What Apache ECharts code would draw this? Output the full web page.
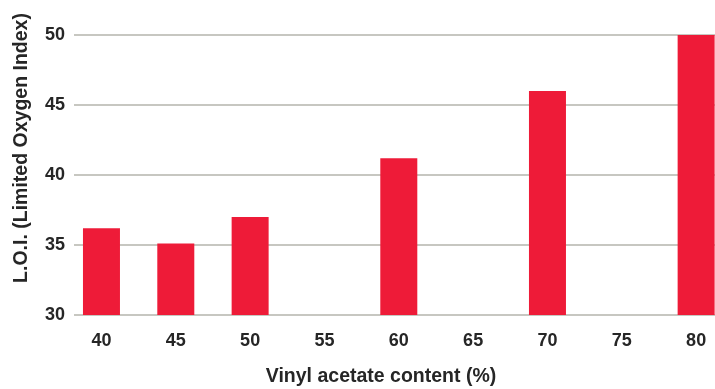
<!DOCTYPE html>
<html>
<head>
<meta charset="utf-8">
<script src="https://cdn.jsdelivr.net/npm/echarts@6/dist/echarts.min.js"></script>
<style>html,body{margin:0;padding:0;background:#fff;overflow:hidden}#c{width:734px;height:389px}</style>
</head>
<body>
<div id="c"></div>
<script>
const categories = ['40','45','50','55','60','65','70','75','80'];
const loiValues = [36.2, 35.1, 37.0, null, 41.2, null, 46.0, null, 50.05];
const yMin = 30, yMax = 50, yStep = 5;
const xTitle = 'Vinyl acetate content (%)';
const yTitle = 'L.O.I. (Limited Oxygen Index)';

const font = 'Liberation Sans, Arial, sans-serif';
const chart = echarts.init(document.getElementById('c'));
chart.setOption({
  animation: false,
  grid: [
    {left: 74, right: 19, top: 35, height: 280},
    {left: 64.3, width: 669, top: 35, height: 280}
  ],
  xAxis: [
    {gridIndex: 0, type: 'value', show: false, min: 0, max: 1},
    {gridIndex: 1, type: 'category', data: categories, boundaryGap: true,
      axisLine: {show: false}, axisTick: {show: false},
      axisLabel: {margin: 17, color: '#262626', fontSize: 18, fontWeight: 'bold', fontFamily: font}}
  ],
  yAxis: [
    {gridIndex: 0, type: 'value', min: yMin, max: yMax, interval: yStep,
      axisLine: {show: false}, axisTick: {show: false},
      axisLabel: {margin: 9, color: '#262626', fontSize: 18, fontWeight: 'bold', fontFamily: font},
      splitLine: {lineStyle: {color: '#b4b4ac', width: 1.5}}},
    {gridIndex: 1, type: 'value', min: yMin, max: yMax, interval: yStep, show: false,
      splitLine: {show: false}}
  ],
  series: [{
    type: 'bar', xAxisIndex: 1, yAxisIndex: 1, data: loiValues,
    barWidth: 37, itemStyle: {color: '#ee1b38'}
  }],
  graphic: [
    {type: 'text', x: 22, y: 148, rotation: Math.PI / 2,
      style: {text: yTitle, fill: '#262626', font: 'bold 19.5px ' + font, align: 'center', verticalAlign: 'middle'}},
    {type: 'text', x: 381, y: 377,
      style: {text: xTitle, fill: '#262626', font: 'bold 19.5px ' + font, align: 'center', verticalAlign: 'middle'}}
  ]
});
</script>
</body>
</html>
